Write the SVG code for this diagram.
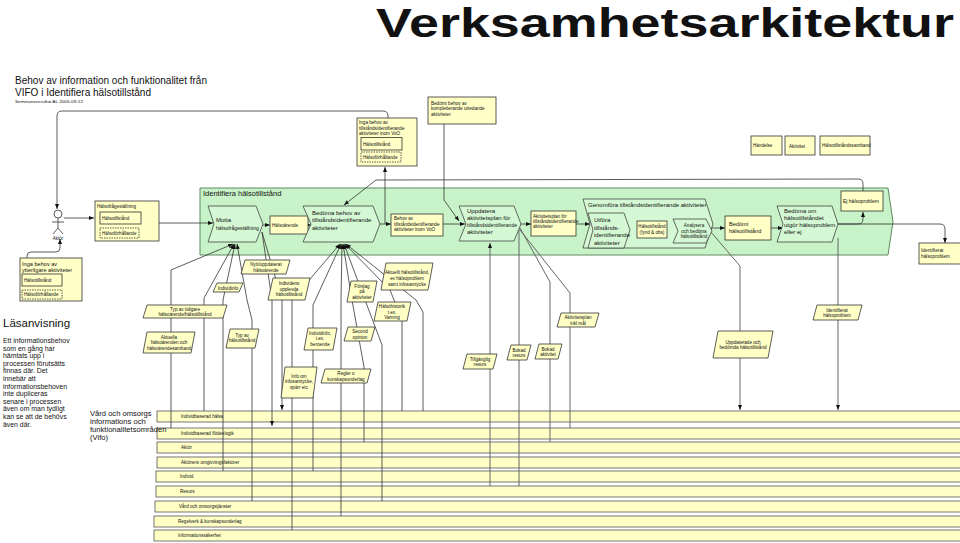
<svg xmlns="http://www.w3.org/2000/svg" width="960" height="543" viewBox="0 0 960 543">
<defs>
<style>
.t{font-family:"Liberation Sans",Arial,sans-serif;fill:#111}
.s{font-size:4.6px}
.m{font-size:6px}
.box{fill:#FFFFC6;stroke:#333;stroke-width:0.8}
.dash{fill:#FFFFC6;stroke:#333;stroke-width:0.8;stroke-dasharray:1.5 1}
.proc{fill:#D4F8D4;stroke:#444;stroke-width:0.8}
.region{fill:#C8F3C8;stroke:#5f8a5f;stroke-width:1}
.bar{fill:#FFFFC6;stroke:#555;stroke-width:0.8}
.ln{fill:none;stroke:#333;stroke-width:0.8}
.gl{fill:none;stroke:#666;stroke-width:1}
.c{text-anchor:middle}
</style>
<marker id="ah" viewBox="0 0 10 10" refX="10" refY="5" markerWidth="5" markerHeight="5" markerUnits="userSpaceOnUse" orient="auto"><path d="M0,1 L10,5 L0,9 z" fill="#111"/></marker>
</defs>
<rect width="960" height="543" fill="#fff"/>

<g id="title">
<text class="t" x="376" y="37" font-size="40" font-weight="bold" textLength="578" lengthAdjust="spacingAndGlyphs">Verksamhetsarkitektur</text>
<text class="t" x="15" y="84" font-size="11.5" textLength="192" lengthAdjust="spacingAndGlyphs">Behov av information och funktionalitet från</text>
<text class="t" x="15" y="95.5" font-size="11.5" textLength="136" lengthAdjust="spacingAndGlyphs">VIFO i Identifiera hälsotillstånd</text>
<text class="t" x="15" y="102.5" font-size="4.2" textLength="68" lengthAdjust="spacingAndGlyphs">Seminarieresultat AL 2005-09-12</text>
</g>

<g id="legend">
<g id="leg-handelse"><rect class="box" x="751" y="136" width="31" height="19"/><text class="t s" x="753" y="147">Händelse</text></g>
<g id="leg-aktivitet"><rect class="box" x="785" y="136" width="30" height="19"/><text class="t s" x="789" y="147.5">Aktivitet</text></g>
<g id="leg-samband"><rect class="box" x="820" y="136" width="50" height="19"/><text class="t s" x="822" y="147">Hälsotillståndssamband</text></g>
</g>

<g id="identifiera-region">
<polygon class="region" points="200,188 888,188 893,222 888,255 200,255"/>
<text class="t" x="203" y="195.5" font-size="7.5">Identifiera hälsotillstånd</text>
</g>

<g id="bars">
<g id="bar-halsa"><rect class="bar" x="157" y="411" width="806" height="11"/><text class="t s" x="181" y="418">Individbaserad hälsa</text></g>
<g id="bar-flodeslogik"><rect class="bar" x="157" y="428" width="806" height="11"/><text class="t s" x="181" y="435">Individbaserad flödeslogik</text></g>
<g id="bar-aktor"><rect class="bar" x="157" y="442" width="806" height="11"/><text class="t s" x="181" y="449">Aktör</text></g>
<g id="bar-omgivning"><rect class="bar" x="157" y="457" width="806" height="11"/><text class="t s" x="181" y="464">Aktörens omgivningsfaktorer</text></g>
<g id="bar-individ"><rect class="bar" x="156" y="471" width="807" height="11"/><text class="t s" x="180" y="478">Individ</text></g>
<g id="bar-resurs"><rect class="bar" x="156" y="486" width="807" height="11"/><text class="t s" x="180" y="493">Resurs</text></g>
<g id="bar-vard"><rect class="bar" x="155" y="501" width="808" height="11"/><text class="t s" x="179" y="508">Vård och omsorgstjänster</text></g>
<g id="bar-regelverk"><rect class="bar" x="154" y="516" width="809" height="11"/><text class="t s" x="178" y="523">Regelverk &amp; kunskapsunderlag</text></g>
<g id="bar-infosak"><rect class="bar" x="154" y="530" width="809" height="11"/><text class="t s" x="178" y="537">Informationssäkerhet</text></g>
</g>

<g id="connectors">
<path class="ln" d="M388,118 V116 Q388,111 383,111 H62 Q57,111 57,116 V209" marker-end="url(#ah)"/>
<path class="ln" d="M64,218 H94" marker-end="url(#ah)"/>
<path class="ln" d="M159,223 H213" marker-end="url(#ah)"/>
<path class="ln" d="M27,258 V256 Q27,252 31,252 H56 Q60,252 60,248 V239" marker-end="url(#ah)"/>
<path class="ln" d="M385,224 V167" marker-end="url(#ah)"/>
<path class="ln" d="M444,124 V200 L459,221" marker-end="url(#ah)"/>
<path class="ln" d="M863,191 V184 Q863,179 858,179 L376,180 L344,205" marker-end="url(#ah)"/>
<path class="ln" d="M263,225 H270" marker-end="url(#ah)"/>
<path class="ln" d="M306,225 H311" marker-end="url(#ah)"/>
<path class="ln" d="M380,224 H391" marker-end="url(#ah)"/>
<path class="ln" d="M443,224 H465" marker-end="url(#ah)"/>
<path class="ln" d="M520,224 H531" marker-end="url(#ah)"/>
<path class="ln" d="M576,224 H590" marker-end="url(#ah)"/>
<path class="ln" d="M630,229 H637" marker-end="url(#ah)"/>
<path class="ln" d="M667,229 H678" marker-end="url(#ah)"/>
<path class="ln" d="M712,228 H725" marker-end="url(#ah)"/>
<path class="ln" d="M771,228 H783" marker-end="url(#ah)"/>
<path class="ln" d="M838,224 H858 Q863,224 863,219 V212" marker-end="url(#ah)"/>
<path class="ln" d="M838,224 H940 Q945,224 945,229 V243" marker-end="url(#ah)"/>
<path class="ln" d="M171,428 V270 L233,244" marker-end="url(#ah)"/>
<path class="ln" d="M204,411 V298 L234,244" marker-end="url(#ah)"/>
<path class="ln" d="M223,471 V300 L235,244" marker-end="url(#ah)"/>
<path class="ln" d="M252,501 V320 L247,300 L237,244" marker-end="url(#ah)"/>
<path class="ln" d="M262,232 L272,300 V426" marker-end="url(#ah)"/>
<path class="ln" d="M262,232 L282,300 V410" marker-end="url(#ah)"/>
<path class="ln" d="M292,530 V300 L340,244" marker-end="url(#ah)"/>
<path class="ln" d="M313,471 V305 L341,244" marker-end="url(#ah)"/>
<path class="ln" d="M341,516 V300 L342,244" marker-end="url(#ah)"/>
<path class="ln" d="M364,442 V367 L352,300 L343,244" marker-end="url(#ah)"/>
<path class="ln" d="M382,501 V345 L365,300 L344,244" marker-end="url(#ah)"/>
<path class="ln" d="M402,411 V320 L390,290 L345,244" marker-end="url(#ah)"/>
<path class="ln" d="M423,411 V312 L416,300 L346,244" marker-end="url(#ah)"/>
<path class="gl" d="M490,486 V243" marker-end="url(#ah)"/>
<path class="gl" d="M519,226 V486"/>
<path class="gl" d="M520,228 L550,282 V442"/>
<path class="gl" d="M520,230 L570,293 V428"/>
<path class="gl" d="M711,232 L740,266 V410" marker-end="url(#ah)"/>
<path class="gl" d="M838,238 V410" marker-end="url(#ah)"/>
</g>

<g id="actor">
<circle cx="58" cy="214" r="4" fill="#fff" stroke="#333" stroke-width="0.8"/>
<path class="ln" d="M58,218 V228 M52,222 H64 M58,228 L53,234 M58,228 L63,234"/>
<text class="t c" x="58" y="240" font-size="4.5">Aktör</text>
</g>

<g id="inga-behov-tillst">
<rect class="box" x="357" y="118" width="60" height="48"/>
<text class="t s" x="359" y="124">Inga behov av</text>
<text class="t s" x="359" y="129.5">tillståndsidentifierande</text>
<text class="t s" x="359" y="135">aktiviteter inom VoO</text>
<rect class="box" x="361" y="137.5" width="41" height="12.5"/>
<text class="t s" x="363" y="145.5">Hälsotillstånd</text>
<rect class="dash" x="361" y="152" width="40" height="10"/>
<text class="t s" x="363" y="158.5">Hälsoförhållande</text>
</g>

<g id="bedomt-behov">
<rect class="box" x="428" y="97" width="68" height="27"/>
<text class="t s" x="431" y="104.5">Bedömt behov av</text>
<text class="t s" x="431" y="110">kompletterande utredande</text>
<text class="t s" x="431" y="115.5">aktiviteter</text>
</g>

<g id="halsofragestallning">
<rect class="box" x="95" y="201" width="64" height="40"/>
<text class="t s" x="97" y="208">Hälsofrågeställning</text>
<rect class="box" x="100" y="212" width="41" height="12"/>
<text class="t s" x="102" y="219.5">Hälsotillstånd</text>
<rect class="dash" x="100" y="228" width="39" height="10"/>
<text class="t s" x="102" y="234.5">Hälsoförhållande</text>
</g>

<g id="inga-behov-ytterligare">
<rect class="box" x="20" y="258" width="62" height="43"/>
<text class="t" x="22" y="265.5" font-size="5.6">Inga behov av</text>
<text class="t" x="22" y="271.5" font-size="5.6">ytterligare aktiviteter</text>
<rect class="box" x="22" y="274" width="40" height="12"/>
<text class="t s" x="24" y="281.5">Hälsotillstånd</text>
<rect class="dash" x="22" y="290" width="40" height="9"/>
<text class="t s" x="24" y="296">Hälsoförhållande</text>
</g>

<g id="motta">
<polygon class="proc" points="208,206 256,206 263,224 256,242 208,242 214,224"/>
<text class="t m" x="216" y="222">Motta</text>
<text class="t m" x="216" y="230" textLength="43" lengthAdjust="spacingAndGlyphs">hälsofrågeställning</text>
</g>
<g id="halsoarende"><rect class="box" x="270" y="216" width="38" height="18"/><text class="t s" x="272" y="226.5">Hälsoärende</text></g>
<g id="bedoma-behov">
<polygon class="proc" points="303,206 373,206 380,224 373,242 303,242 311,224"/>
<text class="t m" x="312" y="214.5">Bedöma behov av</text>
<text class="t m" x="312" y="222">tillståndsidentifierande</text>
<text class="t m" x="312" y="229.5">aktiviteter</text>
</g>
<g id="behov-av">
<rect class="box" x="391" y="214" width="52" height="22"/>
<text class="t s" x="394" y="220">Behov av</text>
<text class="t s" x="394" y="225.5">tillståndsidentifierande</text>
<text class="t s" x="394" y="231">aktiviteter inom VoO</text>
</g>
<g id="uppdatera">
<polygon class="proc" points="459,206 514,206 521,224 514,241 459,241 466,224"/>
<text class="t m" x="467" y="212.5">Uppdatera</text>
<text class="t m" x="467" y="219.5">aktivitetsplan för</text>
<text class="t m" x="467" y="226.5" textLength="50" lengthAdjust="spacingAndGlyphs">tillståndsidentifierande</text>
<text class="t m" x="467" y="233.5">aktiviteter</text>
</g>
<g id="aktivitetsplan">
<rect class="box" x="531" y="211" width="45" height="25"/>
<text class="t s" x="533" y="218">Aktivitetsplan för</text>
<text class="t s" x="533" y="223">tillståndsidentifierande</text>
<text class="t s" x="533" y="228">aktiviteter</text>
</g>
<g id="genomfora">
<polygon class="proc" points="583,199 705,199 713,224 705,248 583,248 590,224"/>
<text class="t" x="588" y="206.5" font-size="6">Genomföra tillståndsidentifierande aktiviteter</text>
</g>
<g id="utfora">
<polygon class="proc" points="588,213 624,213 630,230 624,248 588,248 593,230"/>
<text class="t" x="594" y="222" font-size="6">Utföra</text>
<text class="t" x="594" y="229.5" font-size="6">tillstånds-</text>
<text class="t" x="594" y="237" font-size="6">identifierande</text>
<text class="t" x="594" y="244.5" font-size="6">aktiviteter</text>
</g>
<g id="halsotillstand-fynd">
<rect class="box" x="637" y="221" width="30" height="17"/>
<text class="t s c" x="652" y="228">Hälsotillstånd</text>
<text class="t s c" x="652" y="234">(fynd &amp; obs)</text>
</g>
<g id="analysera">
<polygon class="proc" points="673,219 706,219 712,231 706,243 673,243 678,231"/>
<text class="t s c" x="694" y="227">Analysera</text>
<text class="t s c" x="694" y="232.5">och bedöma</text>
<text class="t s c" x="694" y="238">hälsotillstånd</text>
</g>
<g id="bedomt-halsotillstand">
<rect class="box" x="725" y="216" width="46" height="24"/>
<text class="t" x="729" y="226" font-size="5.6">Bedömt</text>
<text class="t" x="729" y="232.5" font-size="5.6">hälsotillstånd</text>
</g>
<g id="bedoma-om">
<polygon class="proc" points="777,206 832,206 838,224 832,242 777,242 783,224"/>
<text class="t" x="784" y="213" font-size="6">Bedöma om</text>
<text class="t" x="784" y="220" font-size="6">hälsotillståndet</text>
<text class="t" x="784" y="227" font-size="6">utgör hälsoproblem</text>
<text class="t" x="784" y="234" font-size="6">eller ej</text>
</g>
<g id="ej-halsoproblem"><rect class="box" x="841" y="191" width="42" height="20"/><text class="t" x="843" y="202.5" font-size="5">Ej hälsoproblem</text></g>
<g id="identifierat-box">
<rect class="box" x="919" y="243" width="44" height="21"/>
<text class="t" x="921" y="251.5" font-size="4.8">Identifierat</text>
<text class="t" x="921" y="258" font-size="4.8">hälsoproblem</text>
</g>

<g id="p-nytt"><polygon class="box" points="245,260 290,260 286,274 241,274"/><text class="t s c" x="266" y="266">Nytt/uppdaterat</text><text class="t s c" x="266" y="271.5">hälsoärende</text></g>
<g id="p-individinfo"><polygon class="box" points="217,283 243,283 239,292 213,292"/><text class="t s c" x="228" y="289.5">Individinfo</text></g>
<g id="p-upplevda"><polygon class="box" points="273,278 310,278 305,300 268,300"/><text class="t s c" x="289" y="285">Individens</text><text class="t s c" x="289" y="290.5">upplevda</text><text class="t s c" x="289" y="296">hälsotillstånd</text></g>
<g id="p-forslag"><polygon class="box" points="351,281 377,281 373,302 347,302"/><text class="t s c" x="362" y="287.5">Förslag</text><text class="t s c" x="362" y="293">på</text><text class="t s c" x="362" y="298.5">aktiviteter</text></g>
<g id="p-aktuellt"><polygon class="box" points="386,263 433,263 428,290 381,290"/><text class="t s c" x="407" y="273.5">Aktuellt hälsotillstånd,</text><text class="t s c" x="407" y="279.5">ev hälsoproblem</text><text class="t s c" x="407" y="285.5">samt infosamtycke</text></g>
<g id="p-halsohistorik"><polygon class="box" points="378,302 411,302 407,321 374,321"/><text class="t s c" x="392" y="308">Hälsohistorik</text><text class="t s c" x="392" y="313.5">t.ex.</text><text class="t s c" x="392" y="319">Varning</text></g>
<g id="p-typ-tidigare"><polygon class="box" points="147,305 227,305 223,318 143,318"/><text class="t s c" x="185" y="310.5">Typ av tidigare</text><text class="t s c" x="185" y="316">hälsoärende/hälsotillstånd</text></g>
<g id="p-aktuella"><polygon class="box" points="147,332 195,332 191,353 143,353"/><text class="t s c" x="169" y="338.5">Aktuella</text><text class="t s c" x="169" y="344">hälsoärenden och</text><text class="t s c" x="169" y="349.5">hälsoärendesamband</text></g>
<g id="p-typ-halsotillstand"><polygon class="box" points="230,329 259,329 255,348 226,348"/><text class="t s c" x="242" y="336.5">Typ av</text><text class="t s c" x="242" y="342">hälsotillstånd</text></g>
<g id="p-individinfo-beroende"><polygon class="box" points="308,328 337,328 333,350 304,350"/><text class="t s c" x="320" y="334.5">Individinfo,</text><text class="t s c" x="320" y="340">t.ex.</text><text class="t s c" x="320" y="345.5">beroende</text></g>
<g id="p-second"><polygon class="box" points="348,327 375,327 371,341 344,341"/><text class="t s c" x="360" y="333">Second</text><text class="t s c" x="360" y="338.5">opinion</text></g>
<g id="p-infosamtycke"><polygon class="box" points="285,367 317,367 313,398 281,398"/><text class="t s c" x="299" y="377.5">Info om</text><text class="t s c" x="299" y="383">infosamtycke,</text><text class="t s c" x="299" y="388.5">spärr etc</text></g>
<g id="p-regler"><polygon class="box" points="325,369 371,369 367,383 321,383"/><text class="t s c" x="346" y="375">Regler o</text><text class="t s c" x="346" y="380.5">kunskapsunderlag</text></g>
<g id="p-tillganglig"><polygon class="box" points="467,354 497,354 493,369 463,369"/><text class="t s c" x="480" y="360.5">Tillgänglig</text><text class="t s c" x="480" y="366">resurs</text></g>
<g id="p-bokad-resurs"><polygon class="box" points="511,345 531,345 527,360 507,360"/><text class="t s c" x="519" y="351.5">Bokad</text><text class="t s c" x="519" y="357">resurs</text></g>
<g id="p-bokad-aktivitet"><polygon class="box" points="539,344 562,344 558,359 535,359"/><text class="t s c" x="548" y="350.5">Bokad</text><text class="t s c" x="548" y="356">aktivitet</text></g>
<g id="p-aktivitetsplan-mal"><polygon class="box" points="561,313 599,313 595,327 557,327"/><text class="t s c" x="578" y="319">Aktivitetsplan</text><text class="t s c" x="578" y="324.5">inkl mål</text></g>
<g id="p-uppdaterade"><polygon class="box" points="718,331 773,331 768,358 713,358"/><text class="t s c" x="743" y="343.5">Uppdaterade och</text><text class="t s c" x="743" y="349">bedömda hälsotillstånd</text></g>
<g id="p-identifierat"><polygon class="box" points="817,305 862,305 858,320 813,320"/><text class="t s c" x="837" y="311.5">Identifierat</text><text class="t s c" x="837" y="317">hälsoproblem</text></g>

<g id="lasanvisning">
<text class="t" x="3" y="327" font-size="11.5">Läsanvisning</text>
<g class="t" font-size="6.9">
<text x="3" y="343">Ett informationsbehov</text>
<text x="3" y="350.6">som en gång har</text>
<text x="3" y="358.2">hämtats upp i</text>
<text x="3" y="365.8">processen förutsätts</text>
<text x="3" y="373.4">finnas där. Det</text>
<text x="3" y="381">innebär att</text>
<text x="3" y="388.6">informationsbehoven</text>
<text x="3" y="396.2">inte dupliceras</text>
<text x="3" y="403.8">senare i processen</text>
<text x="3" y="411.4">även om man tydligt</text>
<text x="3" y="419">kan se att de behövs</text>
<text x="3" y="426.6">även där.</text>
</g>
</g>
<g id="vifo-label" class="t" font-size="7.6">
<text x="90" y="415.5">Vård och omsorgs</text>
<text x="90" y="423.5">informations och</text>
<text x="90" y="431.5">funktionalitetsområden</text>
<text x="90" y="439.5">(Vifo)</text>
</g>
</svg>
